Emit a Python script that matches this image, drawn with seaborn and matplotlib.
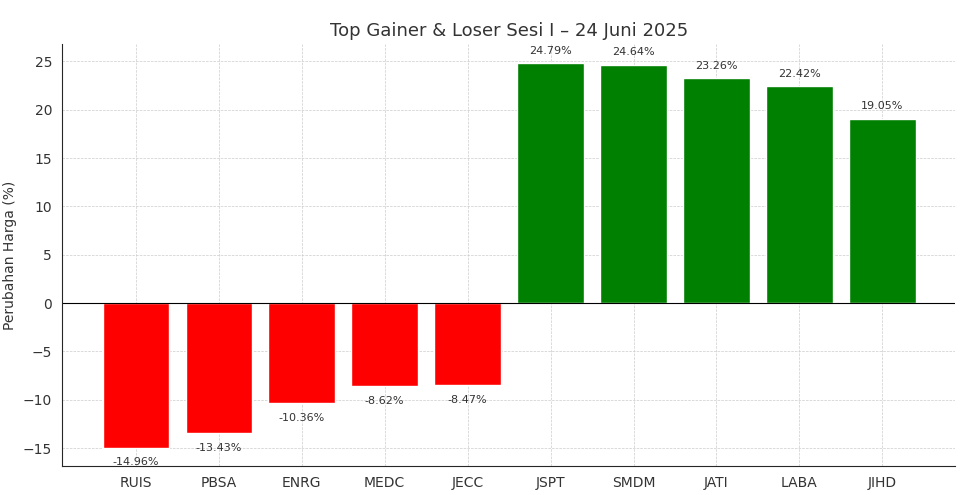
import matplotlib
matplotlib.use("Agg")
import matplotlib.pyplot as plt
import seaborn as sns
import pandas as pd

tickers = ["RUIS", "PBSA", "ENRG", "MEDC", "JECC", "JSPT", "SMDM", "JATI", "LABA", "JIHD"]
changes = [-14.96, -13.43, -10.36, -8.62, -8.47, 24.79, 24.64, 23.26, 22.42, 19.05]

df = pd.DataFrame({"Saham": tickers, "Perubahan": changes})
colors = ["green" if v > 0 else "red" for v in changes]

sns.set_style("white")
fig, ax = plt.subplots(figsize=(9.67, 4.95), dpi=100)
fig.subplots_adjust(left=0.064, right=0.988, top=0.911, bottom=0.059)
sns.barplot(data=df, x="Saham", y="Perubahan", hue="Saham", palette=colors,
            legend=False, width=0.8, saturation=1, ax=ax)
ax.axhline(0, color="black", linewidth=0.8)
for i, v in enumerate(changes):
    if v > 0:
        ax.text(i, v + 0.8, f"{v:.2f}%", ha="center", va="bottom", fontsize=8, color="#333333")
    else:
        ax.text(i, v - 1.0, f"{v:.2f}%", ha="center", va="top", fontsize=8, color="#333333")
ax.set_xlim(-0.89, 9.88)
ax.set_ylim(-16.84, 26.8)
ax.set_yticks([-15, -10, -5, 0, 5, 10, 15, 20, 25])
ax.set_yticklabels(["\u221215", "\u221210", "\u22125", "0", "5", "10", "15", "20", "25"])
ax.grid(True, linestyle="--", linewidth=0.5, color="#cccccc")
ax.set_axisbelow(True)
for s in ["top", "right"]:
    ax.spines[s].set_visible(False)
ax.set_xlabel("")
ax.set_ylabel("Perubahan Harga (%)", fontsize=10, color="#333333")
ax.set_title("Top Gainer & Loser Sesi I \u2013 24 Juni 2025", fontsize=13, color="#333333")
ax.tick_params(labelsize=10, colors="#333333")
fig.savefig("out.png", dpi=100)
